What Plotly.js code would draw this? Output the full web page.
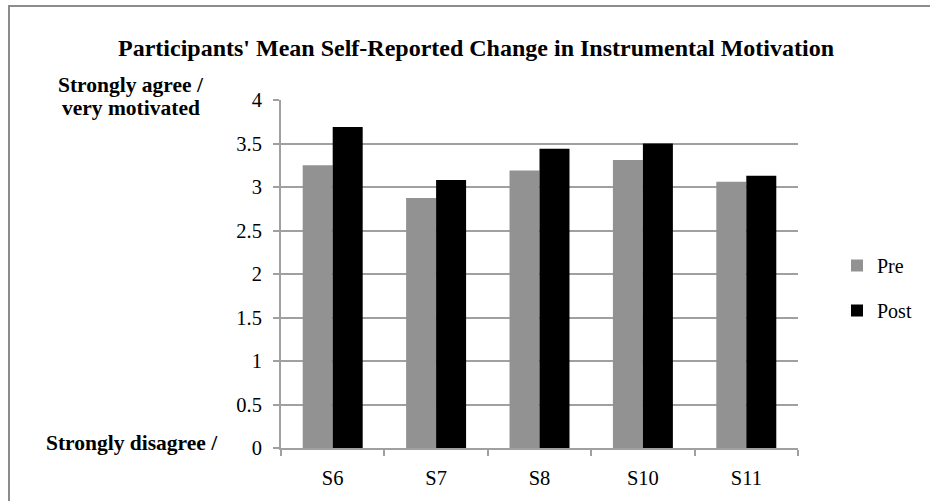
<!DOCTYPE html>
<html>
<head>
<meta charset="utf-8">
<script src="https://cdn.plot.ly/plotly-3.0.1.min.js"></script>
<style>
html,body{margin:0;padding:0;background:#fff;}
#chart{width:930px;height:501px;}
</style>
</head>
<body>
<div id="chart"></div>
<script>
const categories = ["S6", "S7", "S8", "S10", "S11"];
const preValues = [3.25, 2.875, 3.19, 3.31, 3.06];
const postValues = [3.69, 3.08, 3.44, 3.5, 3.13];
const seriesNames = ["Pre", "Post"];
const yTicks = [0, 0.5, 1, 1.5, 2, 2.5, 3, 3.5, 4];
const yTickLabels = ["0", "0.5", "1", "1.5", "2", "2.5", "3", "3.5", "4"];
const titleText = "Participants' Mean Self-Reported Change in Instrumental Motivation";
const topAxisLabel1 = "Strongly agree /";
const topAxisLabel2 = "very motivated";
const bottomAxisLabel = "Strongly disagree /";

const W = 930, H = 501;
const M = {l: 281, r: 132, t: 100, b: 53};
const pw = W - M.l - M.r, ph = H - M.t - M.b;
const px = x => (x - M.l) / pw;
const py = y => (H - M.b - y) / ph;

const serif = "'Liberation Serif', 'Times New Roman', serif";

const traces = [
  {type: "bar", name: seriesNames[0], x: categories, y: preValues,
   marker: {color: "#929292", line: {width: 0}}, legendgroup: "a"},
  {type: "bar", name: seriesNames[1], x: categories, y: postValues,
   marker: {color: "#000000", line: {width: 0}}, legendgroup: "b"}
];

const annFont = {family: serif, size: 21.5, color: "#000"};

const layout = {
  width: W, height: H,
  margin: M,
  paper_bgcolor: "#ffffff", plot_bgcolor: "#ffffff",
  barmode: "group", bargap: 0.42, bargroupgap: 0,
  font: {family: serif, size: 20, color: "#000"},
  title: {text: "<b>" + titleText + "</b>", font: {family: serif, size: 24, color: "#000"},
          x: 476 / W, xref: "container", xanchor: "center",
          y: 1 - 48 / H, yref: "container", yanchor: "middle"},
  xaxis: {type: "category", tickson: "boundaries", ticks: "outside", ticklen: 6,
          tickcolor: "#a0a0a0", tickwidth: 2, showline: true, linecolor: "#a0a0a0", linewidth: 2,
          showgrid: false, ticklabelstandoff: 10,
          tickfont: {family: serif, size: 20.5, color: "#000"}, fixedrange: true},
  yaxis: {range: [0, 4], tickvals: yTicks, ticktext: yTickLabels, ticks: "outside", ticklen: 6,
          tickcolor: "#a0a0a0", tickwidth: 2, showline: true, linecolor: "#a0a0a0", linewidth: 2,
          showgrid: true, gridcolor: "#a0a0a0", gridwidth: 2, zeroline: false,
          ticklabelstandoff: 7,
          tickfont: {family: serif, size: 20.5, color: "#000"}, fixedrange: true},
  showlegend: true,
  legend: {x: px(837), xanchor: "left", y: py(246), yanchor: "top",
           font: {family: serif, size: 20, color: "#000"},
           traceorder: "grouped", tracegroupgap: 16, itemwidth: 30, bgcolor: "rgba(0,0,0,0)"},
  annotations: [
    {text: "<b>" + topAxisLabel1 + "</b>", xref: "paper", yref: "paper", x: px(131), y: py(85),
     xanchor: "center", yanchor: "middle", showarrow: false, font: annFont},
    {text: "<b>" + topAxisLabel2 + "</b>", xref: "paper", yref: "paper", x: px(131), y: py(108),
     xanchor: "center", yanchor: "middle", showarrow: false, font: annFont},
    {text: "<b>" + bottomAxisLabel + "</b>", xref: "paper", yref: "paper", x: px(132), y: py(443),
     xanchor: "center", yanchor: "middle", showarrow: false, font: annFont}
  ],
  shapes: [
    {type: "rect", xref: "paper", yref: "paper", x0: px(9), x1: px(940), y0: py(515), y1: py(6),
     line: {color: "#8c8c8c", width: 2}, fillcolor: "rgba(0,0,0,0)", layer: "below"}
  ]
};

Plotly.newPlot("chart", traces, layout, {displayModeBar: false, staticPlot: true});
</script>
</body>
</html>
